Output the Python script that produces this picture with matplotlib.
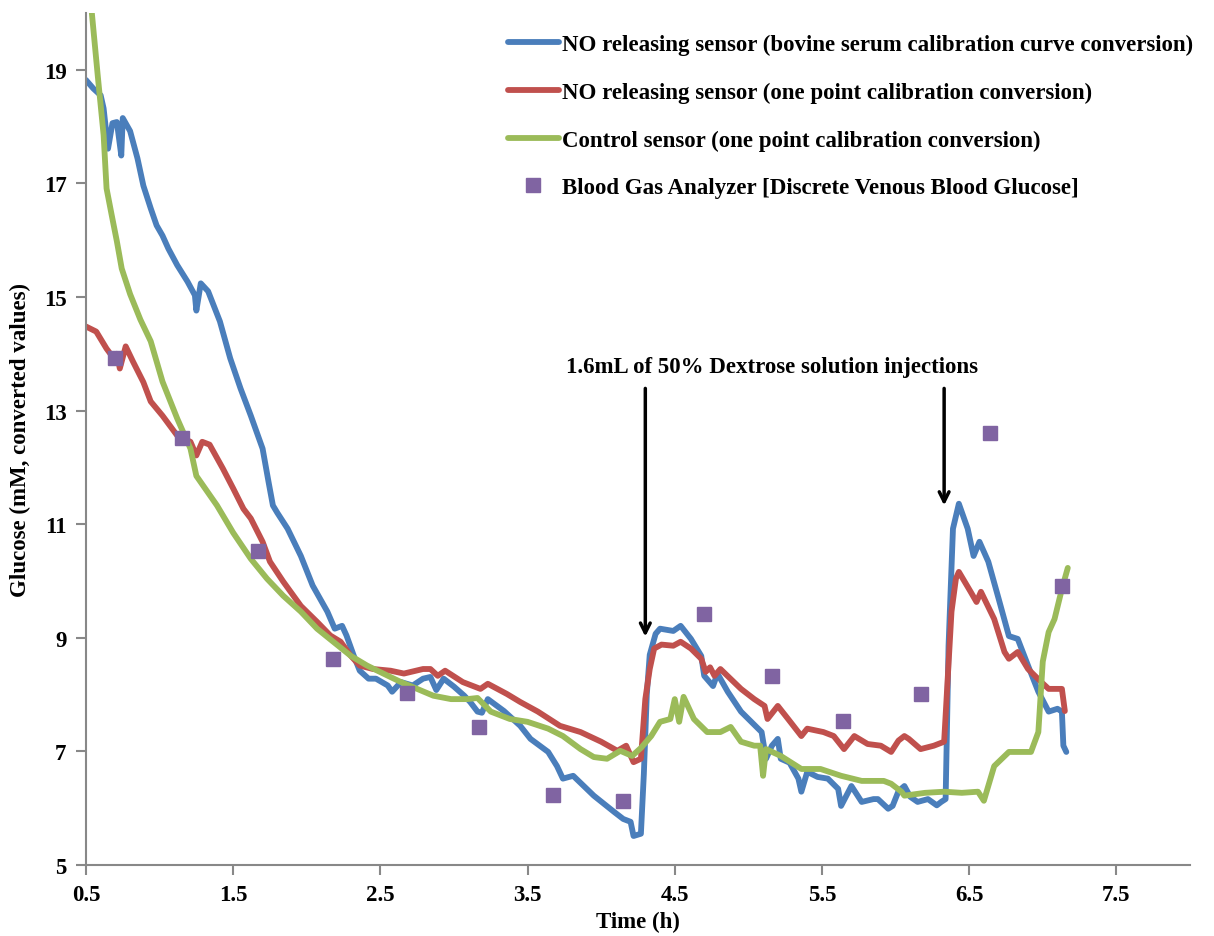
import matplotlib
matplotlib.use("Agg")
import matplotlib.pyplot as plt

# Sensor traces (time in h, glucose in mM)
blue_t = [0.50, 0.55, 0.60, 0.62, 0.65, 0.68, 0.71, 0.74, 0.75, 0.80, 0.85, 0.89, 0.94, 0.98,
          1.02, 1.06, 1.12, 1.19, 1.24, 1.25, 1.28, 1.33, 1.41, 1.48, 1.55, 1.62, 1.70, 1.74,
          1.77, 1.80, 1.87, 1.96, 2.04, 2.14, 2.19, 2.24, 2.27, 2.32, 2.36, 2.42, 2.47, 2.55,
          2.58, 2.64, 2.72, 2.79, 2.84, 2.88, 2.93, 3.00, 3.07, 3.11, 3.16, 3.19, 3.23, 3.34,
          3.45, 3.52, 3.64, 3.70, 3.74, 3.81, 3.95, 4.09, 4.15, 4.20, 4.22, 4.27, 4.29, 4.31,
          4.33, 4.37, 4.40, 4.49, 4.54, 4.61, 4.68, 4.70, 4.76, 4.79, 4.86, 4.95, 5.02, 5.09,
          5.12, 5.16, 5.20, 5.22, 5.28, 5.34, 5.36, 5.40, 5.47, 5.54, 5.61, 5.63, 5.70, 5.77,
          5.85, 5.88, 5.95, 5.98, 6.02, 6.06, 6.10, 6.15, 6.22, 6.28, 6.31, 6.34, 6.36, 6.39,
          6.43, 6.49, 6.53, 6.57, 6.63, 6.70, 6.77, 6.83, 6.90, 6.97, 7.04, 7.10, 7.13, 7.14,
          7.16]
blue_g = [18.82, 18.67, 18.55, 18.32, 17.61, 18.06, 18.08, 17.49, 18.15, 17.92, 17.44, 16.96,
          16.56, 16.26, 16.08, 15.85, 15.56, 15.27, 15.03, 14.76, 15.24, 15.10, 14.57, 13.92,
          13.39, 12.91, 12.33, 11.75, 11.33, 11.20, 10.92, 10.44, 9.92, 9.46, 9.16, 9.21, 9.04,
          8.68, 8.42, 8.28, 8.28, 8.16, 8.05, 8.22, 8.16, 8.28, 8.31, 8.08, 8.28, 8.14, 7.98,
          7.87, 7.70, 7.68, 7.92, 7.71, 7.45, 7.22, 6.99, 6.74, 6.52, 6.57, 6.22, 5.93, 5.81,
          5.76, 5.51, 5.55, 6.60, 8.00, 8.70, 9.07, 9.16, 9.12, 9.21, 8.98, 8.68, 8.33, 8.15,
          8.37, 8.05, 7.70, 7.52, 7.34, 6.87, 7.10, 7.22, 6.87, 6.80, 6.52, 6.29, 6.64, 6.55,
          6.52, 6.34, 6.04, 6.39, 6.11, 6.16, 6.16, 5.99, 6.04, 6.30, 6.39, 6.20, 6.11, 6.16,
          6.05, 6.11, 6.16, 8.86, 10.92, 11.36, 10.92, 10.44, 10.69, 10.34, 9.69, 9.03, 8.98,
          8.51, 8.05, 7.70, 7.75, 7.70, 7.10, 6.99]

red_t = [0.50, 0.57, 0.64, 0.68, 0.71, 0.73, 0.77, 0.82, 0.89, 0.94, 1.02, 1.12, 1.21, 1.25,
         1.29, 1.34, 1.43, 1.50, 1.57, 1.62, 1.70, 1.75, 1.84, 1.96, 2.07, 2.16, 2.23, 2.30,
         2.36, 2.45, 2.57, 2.66, 2.79, 2.84, 2.89, 2.94, 3.06, 3.18, 3.23, 3.36, 3.45, 3.57,
         3.72, 3.86, 4.00, 4.11, 4.17, 4.22, 4.27, 4.30, 4.33, 4.36, 4.41, 4.49, 4.54, 4.61,
         4.68, 4.71, 4.74, 4.77, 4.81, 4.95, 5.04, 5.11, 5.13, 5.20, 5.27, 5.36, 5.40, 5.51,
         5.58, 5.65, 5.72, 5.81, 5.90, 5.97, 6.02, 6.06, 6.09, 6.17, 6.26, 6.33, 6.38, 6.41,
         6.43, 6.51, 6.55, 6.58, 6.67, 6.74, 6.77, 6.83, 6.90, 6.99, 7.04, 7.13, 7.15]
red_g = [14.48, 14.39, 14.09, 13.95, 14.00, 13.74, 14.13, 13.86, 13.50, 13.16, 12.91, 12.56,
         12.45, 12.21, 12.45, 12.40, 11.98, 11.63, 11.27, 11.10, 10.69, 10.34, 9.99, 9.56,
         9.28, 9.04, 8.93, 8.68, 8.51, 8.45, 8.42, 8.37, 8.45, 8.45, 8.33, 8.42, 8.22, 8.10,
         8.19, 8.01, 7.87, 7.70, 7.45, 7.34, 7.17, 7.01, 7.10, 6.81, 6.87, 7.92, 8.45, 8.81,
         8.88, 8.86, 8.93, 8.81, 8.63, 8.40, 8.48, 8.33, 8.45, 8.10, 7.92, 7.80, 7.57, 7.80,
         7.57, 7.27, 7.40, 7.34, 7.27, 7.04, 7.27, 7.13, 7.10, 6.99, 7.19, 7.27, 7.22, 7.04,
         7.10, 7.17, 9.46, 10.04, 10.16, 9.81, 9.63, 9.81, 9.33, 8.75, 8.63, 8.75, 8.45, 8.22,
         8.10, 8.10, 7.71]

green_t = [0.52, 0.54, 0.58, 0.62, 0.64, 0.675, 0.71, 0.743, 0.80, 0.87, 0.94, 1.02, 1.12,
           1.21, 1.25, 1.39, 1.50, 1.62, 1.73, 1.84, 1.96, 2.07, 2.18, 2.30, 2.41, 2.52, 2.64,
           2.75, 2.86, 2.98, 3.09, 3.16, 3.25, 3.38, 3.50, 3.64, 3.74, 3.86, 3.95, 4.04, 4.13,
           4.21, 4.27, 4.34, 4.40, 4.47, 4.50, 4.53, 4.56, 4.63, 4.72, 4.81, 4.88, 4.95, 5.04,
           5.08, 5.10, 5.12, 5.22, 5.36, 5.49, 5.63, 5.77, 5.92, 5.97, 6.04, 6.06, 6.20, 6.33,
           6.45, 6.56, 6.60, 6.67, 6.77, 6.92, 6.97, 7.00, 7.04, 7.08, 7.13, 7.17]
green_g = [20.40, 20.00, 18.90, 17.85, 16.91, 16.44, 15.98, 15.50, 15.05, 14.60, 14.22, 13.51,
           12.86, 12.33, 11.85, 11.33, 10.85, 10.39, 10.04, 9.74, 9.46, 9.16, 8.93, 8.68, 8.51,
           8.37, 8.22, 8.10, 7.98, 7.92, 7.92, 7.94, 7.70, 7.57, 7.52, 7.40, 7.27, 7.04, 6.90,
           6.87, 7.01, 6.92, 7.06, 7.27, 7.52, 7.57, 7.92, 7.52, 7.96, 7.57, 7.34, 7.34, 7.43,
           7.17, 7.10, 7.10, 6.57, 7.04, 6.92, 6.69, 6.69, 6.57, 6.48, 6.48, 6.43, 6.29, 6.22,
           6.27, 6.29, 6.27, 6.29, 6.13, 6.74, 6.99, 6.99, 7.34, 8.58, 9.10, 9.33, 9.86, 10.23]

# Blood gas analyzer samples
bga_t = [0.70, 1.15, 1.67, 2.18, 2.68, 3.17, 3.67, 4.15, 4.70, 5.16, 5.64, 6.17, 6.64, 7.13]
bga_g = [13.92, 12.51, 10.52, 8.63, 8.03, 7.43, 6.23, 6.13, 9.42, 8.33, 7.54, 8.01, 12.61, 9.92]

injection_t = [4.30, 6.33]
injection_tip = [9.02, 11.33]
x_ticks = [0.5, 1.5, 2.5, 3.5, 4.5, 5.5, 6.5, 7.5]
y_ticks = [5, 7, 9, 11, 13, 15, 17, 19]

plt.rcParams['font.family'] = ['Liberation Serif', 'DejaVu Serif']
plt.rcParams['font.weight'] = 'bold'
fs = 16.5

fig = plt.figure(figsize=(12.14, 9.37), dpi=100)
ax = fig.add_axes([0.0708, 0.0758, 0.9094, 0.9093])

lw = 4.2
ax.plot(blue_t, blue_g, color='#4A7EBB', lw=lw, solid_capstyle='round', solid_joinstyle='round',
        label='NO releasing sensor (bovine serum calibration curve conversion)')
ax.plot(red_t, red_g, color='#C0504D', lw=lw, solid_capstyle='round', solid_joinstyle='round',
        label='NO releasing sensor (one point calibration conversion)')
ax.plot(green_t, green_g, color='#9BBB59', lw=lw, solid_capstyle='round', solid_joinstyle='round',
        label='Control sensor (one point calibration conversion)')
ax.plot(bga_t, bga_g, ls='none', marker='s', ms=10, color='#8064A2',
        label='Blood Gas Analyzer [Discrete Venous Blood Glucose]')

for t, tip in zip(injection_t, injection_tip):
    ax.annotate('', xy=(t, tip), xytext=(t, 13.39),
                arrowprops=dict(arrowstyle='->,head_length=0.7,head_width=0.35',
                                lw=2.5, color='black', shrinkA=0, shrinkB=0))
ax.text(5.16, 13.78, '1.6mL of 50% Dextrose solution injections', ha='center', va='center',
        fontsize=fs, fontweight='bold')

ax.set_xlim(0.5, 8.0)
ax.set_ylim(5, 20)
ax.set_xticks(x_ticks)
ax.set_xticklabels([str(v) for v in x_ticks])
ax.set_yticks(y_ticks)
ax.tick_params(axis='both', direction='out', length=7, width=1.5, color='#888888',
               labelsize=fs, pad=7)
for s in ['top', 'right']:
    ax.spines[s].set_visible(False)
for s in ['left', 'bottom']:
    ax.spines[s].set_color('#888888')
    ax.spines[s].set_linewidth(1.5)

ax.set_xlabel('Time (h)', fontsize=fs, fontweight='bold', labelpad=4)
ax.set_ylabel('Glucose (mM, converted values)', fontsize=fs, fontweight='bold', labelpad=9)

leg = ax.legend(loc='upper left', bbox_to_anchor=(0.382, 0.975), frameon=False,
                fontsize=fs, handlelength=2.25, handletextpad=0.1, labelspacing=1.15,
                borderpad=0, borderaxespad=0)

fig.savefig('out.png', dpi=100)
